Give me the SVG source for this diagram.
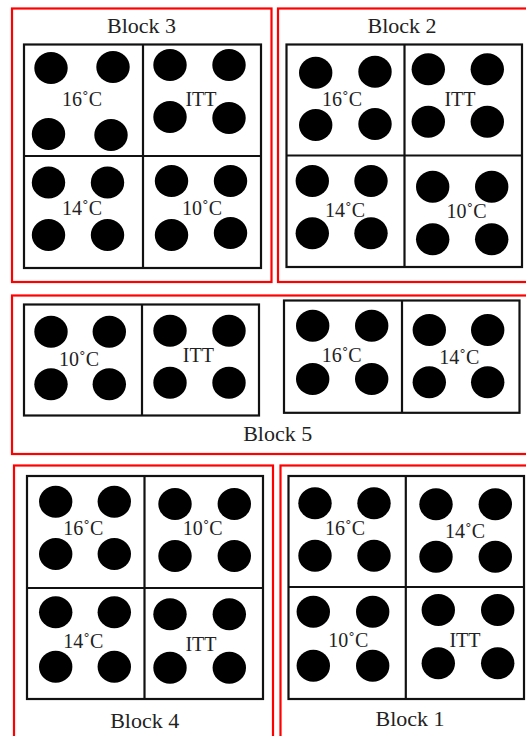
<svg xmlns="http://www.w3.org/2000/svg" width="526" height="736" viewBox="0 0 526 736">
<style>
.red{fill:none;stroke:#ff0000;stroke-width:2.2}
.grid{fill:none;stroke:#111;stroke-width:2.2}
.dot{fill:#000}
.lbl{font-family:"Liberation Serif","Times New Roman",serif;font-size:20px;fill:#222;text-anchor:middle}
.ttl{font-family:"Liberation Serif","Times New Roman",serif;font-size:22px;fill:#222;text-anchor:middle}
</style>
<defs>
<ellipse id="d" cx="0" cy="0" rx="16.7" ry="16" class="dot"/>
</defs>
<rect x="0" y="0" width="526" height="736" fill="#fff"/>

<g id="block3">
<rect class="red" x="12" y="8.5" width="259.5" height="273.5"/>
<text class="ttl" x="141.5" y="33">Block 3</text>
<rect class="grid" x="24" y="44.5" width="237" height="223.5"/>
<line class="grid" x1="143" y1="44.5" x2="143" y2="268"/>
<line class="grid" x1="24" y1="156" x2="261" y2="156"/>
<g id="b3-16">
<use href="#d" x="51" y="68"/><use href="#d" x="113" y="67"/><use href="#d" x="48.5" y="134"/><use href="#d" x="111" y="135"/>
<text class="lbl" x="82" y="106">16˚C</text>
</g>
<g id="b3-itt">
<use href="#d" x="170" y="65"/><use href="#d" x="229" y="65"/><use href="#d" x="170" y="117"/><use href="#d" x="229" y="118"/>
<text class="lbl" x="201" y="106">ITT</text>
</g>
<g id="b3-14">
<use href="#d" x="48.5" y="182.5"/><use href="#d" x="107.5" y="182.5"/><use href="#d" x="48.5" y="235"/><use href="#d" x="107.5" y="235"/>
<text class="lbl" x="82" y="215">14˚C</text>
</g>
<g id="b3-10">
<use href="#d" x="171.5" y="181"/><use href="#d" x="230.5" y="181"/><use href="#d" x="171.5" y="235"/><use href="#d" x="230.5" y="233"/>
<text class="lbl" x="202" y="215">10˚C</text>
</g>
</g>

<g id="block2">
<rect class="red" x="278" y="8.5" width="260" height="273.5"/>
<text class="ttl" x="402" y="33">Block 2</text>
<rect class="grid" x="286.5" y="44.5" width="235.5" height="222.5"/>
<line class="grid" x1="404.5" y1="44.5" x2="404.5" y2="267"/>
<line class="grid" x1="286.5" y1="155.5" x2="522" y2="155.5"/>
<g id="b2-16">
<use href="#d" x="315.7" y="72.7"/><use href="#d" x="375" y="71.7"/><use href="#d" x="315.7" y="125"/><use href="#d" x="375" y="124"/>
<text class="lbl" x="342" y="106">16˚C</text>
</g>
<g id="b2-itt">
<use href="#d" x="428.3" y="69.3"/><use href="#d" x="487.3" y="69.3"/><use href="#d" x="428.3" y="121.7"/><use href="#d" x="487.3" y="121.7"/>
<text class="lbl" x="460" y="106">ITT</text>
</g>
<g id="b2-14">
<use href="#d" x="312.3" y="181"/><use href="#d" x="371" y="181"/><use href="#d" x="312.3" y="233.3"/><use href="#d" x="371" y="233.3"/>
<text class="lbl" x="345" y="216.5">14˚C</text>
</g>
<g id="b2-10">
<use href="#d" x="432.7" y="186.7"/><use href="#d" x="491.7" y="186.7"/><use href="#d" x="432.7" y="239.3"/><use href="#d" x="491.7" y="239.3"/>
<text class="lbl" x="466.5" y="218">10˚C</text>
</g>
</g>

<g id="block5">
<rect class="red" x="12" y="295.5" width="520" height="158.5"/>
<text class="ttl" x="277.7" y="441">Block 5</text>
<rect class="grid" x="24" y="304.5" width="235" height="111"/>
<line class="grid" x1="142" y1="304.5" x2="142" y2="415.5"/>
<rect class="grid" x="284" y="300.5" width="235.5" height="112.3"/>
<line class="grid" x1="402" y1="300.5" x2="402" y2="412.8"/>
<g id="b5-10">
<use href="#d" x="51" y="331.7"/><use href="#d" x="109.3" y="331.7"/><use href="#d" x="51" y="384.3"/><use href="#d" x="109.3" y="384.3"/>
<text class="lbl" x="79" y="366">10˚C</text>
</g>
<g id="b5-itt">
<use href="#d" x="170" y="330.7"/><use href="#d" x="229" y="330.7"/><use href="#d" x="170" y="382.7"/><use href="#d" x="229" y="382.7"/>
<text class="lbl" x="198.3" y="362.3">ITT</text>
</g>
<g id="b5-16">
<use href="#d" x="312.7" y="325.7"/><use href="#d" x="371.7" y="325.7"/><use href="#d" x="312.7" y="379"/><use href="#d" x="371.7" y="379"/>
<text class="lbl" x="341.7" y="361.7">16˚C</text>
</g>
<g id="b5-14">
<use href="#d" x="429.3" y="330"/><use href="#d" x="487.7" y="330"/><use href="#d" x="429.3" y="382.3"/><use href="#d" x="487.7" y="382.3"/>
<text class="lbl" x="459.3" y="364">14˚C</text>
</g>
</g>

<g id="block4">
<rect class="red" x="14" y="465.5" width="259" height="280"/>
<text class="ttl" x="144.7" y="727.5">Block 4</text>
<rect class="grid" x="27" y="476" width="236" height="223"/>
<line class="grid" x1="144.5" y1="476" x2="144.5" y2="699"/>
<line class="grid" x1="27" y1="588" x2="263" y2="588"/>
<g id="b4-16">
<use href="#d" x="55.7" y="501.7"/><use href="#d" x="114.3" y="501.7"/><use href="#d" x="55.7" y="554"/><use href="#d" x="114.3" y="554"/>
<text class="lbl" x="83.3" y="535">16˚C</text>
</g>
<g id="b4-10">
<use href="#d" x="175" y="504"/><use href="#d" x="234.3" y="504"/><use href="#d" x="175" y="556"/><use href="#d" x="234.3" y="556"/>
<text class="lbl" x="202.7" y="535">10˚C</text>
</g>
<g id="b4-14">
<use href="#d" x="55.7" y="612.3"/><use href="#d" x="114.3" y="612.3"/><use href="#d" x="55.7" y="666.7"/><use href="#d" x="114.3" y="666.7"/>
<text class="lbl" x="83.3" y="647.7">14˚C</text>
</g>
<g id="b4-itt">
<use href="#d" x="170" y="614.3"/><use href="#d" x="229.3" y="614.3"/><use href="#d" x="170" y="667.7"/><use href="#d" x="229.3" y="667.7"/>
<text class="lbl" x="201" y="651">ITT</text>
</g>
</g>

<g id="block1">
<rect class="red" x="280.5" y="465.5" width="260" height="280"/>
<text class="ttl" x="410" y="725.7">Block 1</text>
<rect class="grid" x="288.5" y="476" width="235.5" height="223"/>
<line class="grid" x1="405.8" y1="476" x2="405.8" y2="699"/>
<line class="grid" x1="288.5" y1="587" x2="524" y2="587"/>
<g id="b1-16">
<use href="#d" x="315" y="503.3"/><use href="#d" x="374" y="503.3"/><use href="#d" x="315" y="555.7"/><use href="#d" x="374" y="555.7"/>
<text class="lbl" x="345" y="535">16˚C</text>
</g>
<g id="b1-14">
<use href="#d" x="436" y="504.3"/><use href="#d" x="495.3" y="504.3"/><use href="#d" x="436" y="556.7"/><use href="#d" x="495.3" y="556.7"/>
<text class="lbl" x="465" y="538.3">14˚C</text>
</g>
<g id="b1-10">
<use href="#d" x="313.3" y="611.7"/><use href="#d" x="372.7" y="611.7"/><use href="#d" x="313.3" y="665.7"/><use href="#d" x="372.7" y="665.7"/>
<text class="lbl" x="348.3" y="647.3">10˚C</text>
</g>
<g id="b1-itt">
<use href="#d" x="438.3" y="610"/><use href="#d" x="497.7" y="610"/><use href="#d" x="438.3" y="663.3"/><use href="#d" x="497.7" y="663.3"/>
<text class="lbl" x="465" y="647.3">ITT</text>
</g>
</g>
</svg>
